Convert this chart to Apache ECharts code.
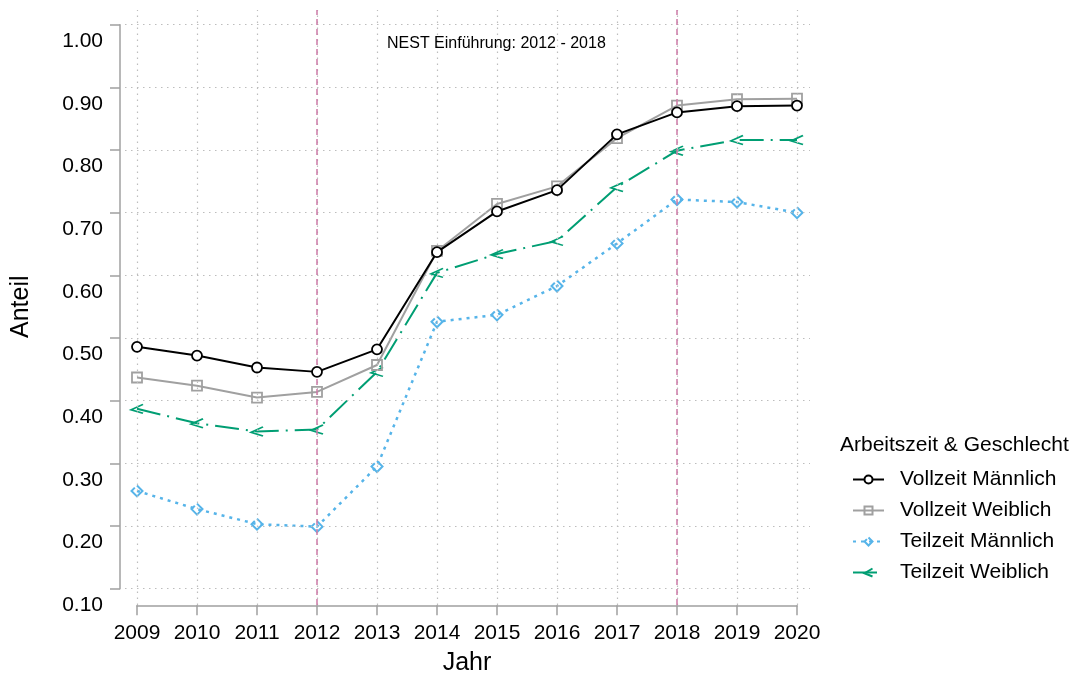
<!DOCTYPE html>
<html>
<head>
<meta charset="utf-8">
<script src="https://cdn.jsdelivr.net/npm/echarts@6/dist/echarts.min.js"></script>
<style>
html,body{margin:0;padding:0;background:#fff;}
#chart{width:1074px;height:674px;}
</style>
</head>
<body>
<div id="chart"></div>
<script>
const years = [2009,2010,2011,2012,2013,2014,2015,2016,2017,2018,2019,2020];
const vollzeitMaennlich = [0.486,0.472,0.453,0.446,0.482,0.637,0.702,0.736,0.825,0.860,0.870,0.871];
const vollzeitWeiblich  = [0.437,0.424,0.405,0.414,0.457,0.639,0.714,0.742,0.819,0.871,0.881,0.882];
const teilzeitMaennlich = [0.256,0.227,0.203,0.199,0.295,0.526,0.537,0.583,0.651,0.721,0.717,0.700];
const teilzeitWeiblich  = [0.387,0.364,0.351,0.354,0.446,0.604,0.634,0.655,0.741,0.799,0.816,0.816];
const yTicks = [0.1,0.2,0.3,0.4,0.5,0.6,0.7,0.8,0.9,1.0];
const nestYears = [2012, 2018];
const seriesNames = ['Vollzeit Männlich','Vollzeit Weiblich','Teilzeit Männlich','Teilzeit Weiblich'];

const FONT = '"Liberation Sans", Arial, Helvetica, sans-serif';
const pair = arr => years.map((y,i)=>[y, arr[i]]);

const dotted = {color:'#bdbdbd', width:1.2, type:[1.5,4.5]};
const gridMarks = years.map(y=>({xAxis:y, lineStyle:dotted}))
  .concat(yTicks.map(v=>({yAxis:v, lineStyle:dotted})));
const nestMarks = nestYears.map(y=>({xAxis:y, lineStyle:{color:'#cc79a7', width:1.5, type:[6,4]}}));

const chart = echarts.init(document.getElementById('chart'), null, {renderer:'canvas'});
chart.setOption({
  animation:false,
  backgroundColor:'#fff',
  textStyle:{fontFamily:FONT},
  title:[
    {text:'NEST Einführung: 2012 - 2018', left:382, top:31,
     textStyle:{fontSize:16, fontWeight:'normal', color:'#000', fontFamily:FONT}},
    {text:'Arbeitszeit & Geschlecht', left:835, top:430,
     textStyle:{fontSize:21, fontWeight:'normal', color:'#000', fontFamily:FONT}}
  ],
  grid:[
    {left:125, top:10, width:685, height:595, outerBoundsMode:'none', containLabel:false},
    {left:137, top:24.7, width:660, height:564, outerBoundsMode:'none', containLabel:false}
  ],
  xAxis:[
    {gridIndex:0, type:'value', min:2008.8, max:2008.8+685/60, show:false},
    {gridIndex:1, type:'value', min:2009, max:2020, interval:1, offset:16.6,
     name:'Jahr', nameLocation:'middle', nameGap:45,
     nameTextStyle:{fontSize:25, color:'#000', fontFamily:FONT},
     axisLine:{show:true, lineStyle:{color:'#a0a0a0', width:1.5}},
     axisTick:{show:true, length:10, lineStyle:{color:'#a0a0a0', width:1.5}},
     axisLabel:{fontSize:21, color:'#000', margin:17, fontFamily:FONT, formatter:v=>String(v)},
     splitLine:{show:false}}
  ],
  yAxis:[
    {gridIndex:0, type:'value', min:0.1-(605-588.7)/626.667, max:1.0+(24.7-10)/626.667, show:false},
    {gridIndex:1, type:'value', min:0.1, max:1.0, interval:0.1, offset:17,
     name:'Anteil', nameLocation:'middle', nameGap:86, nameRotate:90,
     nameTextStyle:{fontSize:25, color:'#000', fontFamily:FONT},
     axisLine:{show:true, lineStyle:{color:'#a0a0a0', width:1.5}},
     axisTick:{show:true, length:10, lineStyle:{color:'#a0a0a0', width:1.5}},
     axisLabel:{fontSize:21, color:'#000', margin:17, verticalAlign:'top', padding:[6,0,0,0],
       fontFamily:FONT, formatter:v=>v.toFixed(2)},
     splitLine:{show:false}}
  ],
  legend:{
    data:seriesNames, orient:'vertical', left:847, top:464,
    itemWidth:31, itemHeight:10, itemGap:10,
    textStyle:{fontSize:21, color:'#000', fontFamily:FONT, padding:[0,0,0,11]}
  },
  series:[
    {type:'line', name:'_grid', xAxisIndex:0, yAxisIndex:0, data:[], silent:true, z:1,
     markLine:{silent:true, symbol:['none','none'], label:{show:false}, data:gridMarks.concat(nestMarks)}},
    {type:'line', name:seriesNames[0], xAxisIndex:0, yAxisIndex:0, data:pair(vollzeitMaennlich), z:5,
     color:'#000', symbol:'circle', symbolSize:10, showAllSymbol:true,
     lineStyle:{color:'#000', width:2},
     itemStyle:{color:'#fff', borderColor:'#000', borderWidth:1.8}},
    {type:'line', name:seriesNames[1], xAxisIndex:0, yAxisIndex:0, data:pair(vollzeitWeiblich), z:4,
     color:'#a0a0a0', symbol:'rect', symbolSize:10,
     lineStyle:{color:'#a0a0a0', width:2},
     itemStyle:{color:'rgba(255,255,255,0)', borderColor:'#a0a0a0', borderWidth:1.8}},
    {type:'line', name:seriesNames[2], xAxisIndex:0, yAxisIndex:0, data:pair(teilzeitMaennlich), z:3,
     color:'#56b4e9', symbol:'path://M5,0 L10,5 L5,10 L0,5 L3,2', symbolSize:11,
     lineStyle:{color:'#56b4e9', width:2.5, type:[3,5]},
     itemStyle:{color:'rgba(255,255,255,0)', borderColor:'#56b4e9', borderWidth:2}},
    {type:'line', name:seriesNames[3], xAxisIndex:0, yAxisIndex:0, data:pair(teilzeitWeiblich), z:3,
     color:'#009e73', symbol:'path://M10,0 L0,6 L10,10', symbolSize:[12,9],
     lineStyle:{color:'#009e73', width:2, type:[24,7,2,7]},
     itemStyle:{color:'rgba(255,255,255,0)', borderColor:'#009e73', borderWidth:1.8}}
  ]
});
</script>
</body>
</html>
